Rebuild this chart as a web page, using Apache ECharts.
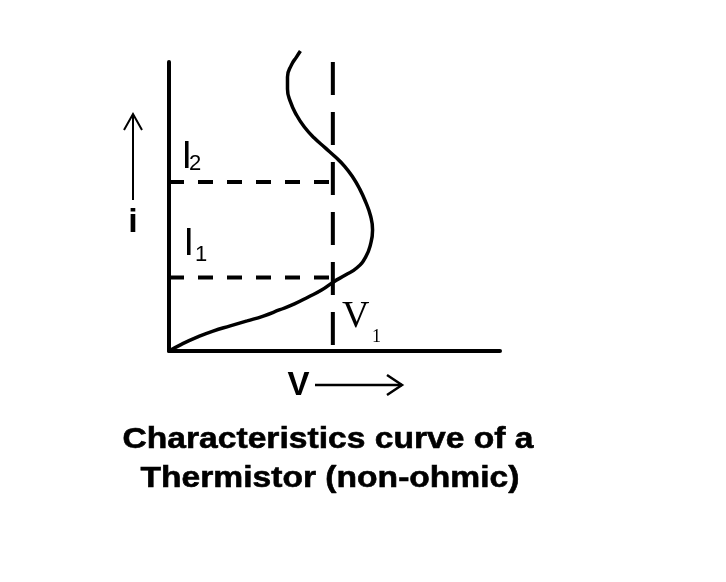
<!DOCTYPE html>
<html>
<head>
<meta charset="utf-8">
<script src="https://cdn.jsdelivr.net/npm/echarts@6/dist/echarts.min.js"></script>
<style>html,body{margin:0;padding:0;background:#fff;}#c{width:726px;height:582px;}</style>
</head>
<body>
<div id="c"></div>
<script>
// Curve (V, i), arbitrary units
const curveV = [0.00, 0.39, 0.85, 1.33, 1.85, 2.36, 2.85, 3.33, 3.79, 4.21, 4.61, 4.97, 5.33, 5.67, 5.94, 6.09, 6.15, 6.09, 5.94, 5.76, 5.55, 5.30, 5.03, 4.73, 4.39, 4.09, 3.85, 3.67, 3.58, 3.58, 3.70, 3.85, 3.97];
const curveI = [0.00, 0.24, 0.48, 0.69, 0.87, 1.04, 1.21, 1.42, 1.63, 1.87, 2.11, 2.39, 2.63, 2.87, 3.25, 3.70, 4.19, 4.67, 5.16, 5.61, 6.02, 6.40, 6.71, 7.02, 7.37, 7.75, 8.17, 8.62, 9.07, 9.48, 9.90, 10.17, 10.38];
const V1 = 4.95;
const I1 = 2.54;
const I2 = 5.85;
const axisMax = [10, 10];
const titleLines = ['Characteristics curve of a', 'Thermistor (non-ohmic)'];

const curve = curveV.map((v, k) => [v, curveI[k]]);
const chart = echarts.init(document.getElementById('c'));
const sans = '"Liberation Sans", Arial, sans-serif';
const serif = '"Liberation Serif", "Times New Roman", serif';
const hidden = {axisTick:{show:false}, axisLabel:{show:false}, splitLine:{show:false}};

chart.setOption({
  animation: false,
  backgroundColor: '#fff',
  grid: {left: 169, top: 62, width: 331, height: 289, outerBoundsMode: 'none'},
  xAxis: Object.assign({type: 'value', min: 0, max: axisMax[0], axisLine: {show: true, onZero: false, lineStyle: {color: '#000', width: 4}}}, hidden),
  yAxis: Object.assign({type: 'value', min: 0, max: axisMax[1], axisLine: {show: true, onZero: false, lineStyle: {color: '#000', width: 4}}}, hidden),
  series: [
    {type: 'line', data: [[0, I2], [V1, I2]], showSymbol: false, lineStyle: {color: '#000', width: 4, type: [15, 14]}},
    {type: 'line', data: [[0, I1], [V1, I1]], showSymbol: false, lineStyle: {color: '#000', width: 4, type: [15, 14]}},
    {type: 'line', data: [[V1, axisMax[1]], [V1, 0]], showSymbol: false, lineStyle: {color: '#000', width: 4, type: [33, 17]}},
    {type: 'line', data: curve, showSymbol: false, smooth: 0.5, clip: false, lineStyle: {color: '#000', width: 3.5}}
  ],
  graphic: [
    {type: 'text', x: 181.5, y: 158, style: {text: 'I', font: '38px ' + sans, fill: '#000', verticalAlign: 'middle'}},
    {type: 'text', x: 189, y: 164, style: {text: '2', font: '22px ' + sans, fill: '#000', verticalAlign: 'middle'}},
    {type: 'text', x: 183.5, y: 245, style: {text: 'I', font: '38px ' + sans, fill: '#000', verticalAlign: 'middle'}},
    {type: 'text', x: 195, y: 255, style: {text: '1', font: '22px ' + sans, fill: '#000', verticalAlign: 'middle'}},
    {type: 'text', x: 342, y: 317, style: {text: 'V', font: '38px ' + serif, fill: '#000', verticalAlign: 'middle'}},
    {type: 'text', x: 372, y: 337, style: {text: '1', font: '18px ' + serif, fill: '#000', verticalAlign: 'middle'}},
    {type: 'text', x: 133, y: 223, style: {text: 'i', font: 'bold 34px ' + sans, fill: '#000', align: 'center', verticalAlign: 'middle'}},
    {type: 'text', x: 298.5, y: 385.5, style: {text: 'V', font: 'bold 33px ' + sans, fill: '#000', align: 'center', verticalAlign: 'middle'}},
    {type: 'polyline', shape: {points: [[133, 200], [133, 114]]}, style: {stroke: '#000', lineWidth: 2}},
    {type: 'polyline', shape: {points: [[124, 130], [133, 114], [142, 130]]}, style: {stroke: '#000', lineWidth: 2, fill: null}},
    {type: 'polyline', shape: {points: [[315, 385], [402, 385]]}, style: {stroke: '#000', lineWidth: 2.5}},
    {type: 'polyline', shape: {points: [[387, 375], [402, 385], [387, 395]]}, style: {stroke: '#000', lineWidth: 2.5, fill: null}},
    {type: 'text', x: 328, y: 439.5, scaleX: 1.12, style: {text: titleLines[0], font: 'bold 30px ' + sans, fill: '#000', stroke: '#000', lineWidth: 0.6, align: 'center', verticalAlign: 'middle'}},
    {type: 'text', x: 330, y: 478.5, scaleX: 1.12, style: {text: titleLines[1], font: 'bold 30px ' + sans, fill: '#000', stroke: '#000', lineWidth: 0.6, align: 'center', verticalAlign: 'middle'}}
  ]
});
</script>
</body>
</html>
